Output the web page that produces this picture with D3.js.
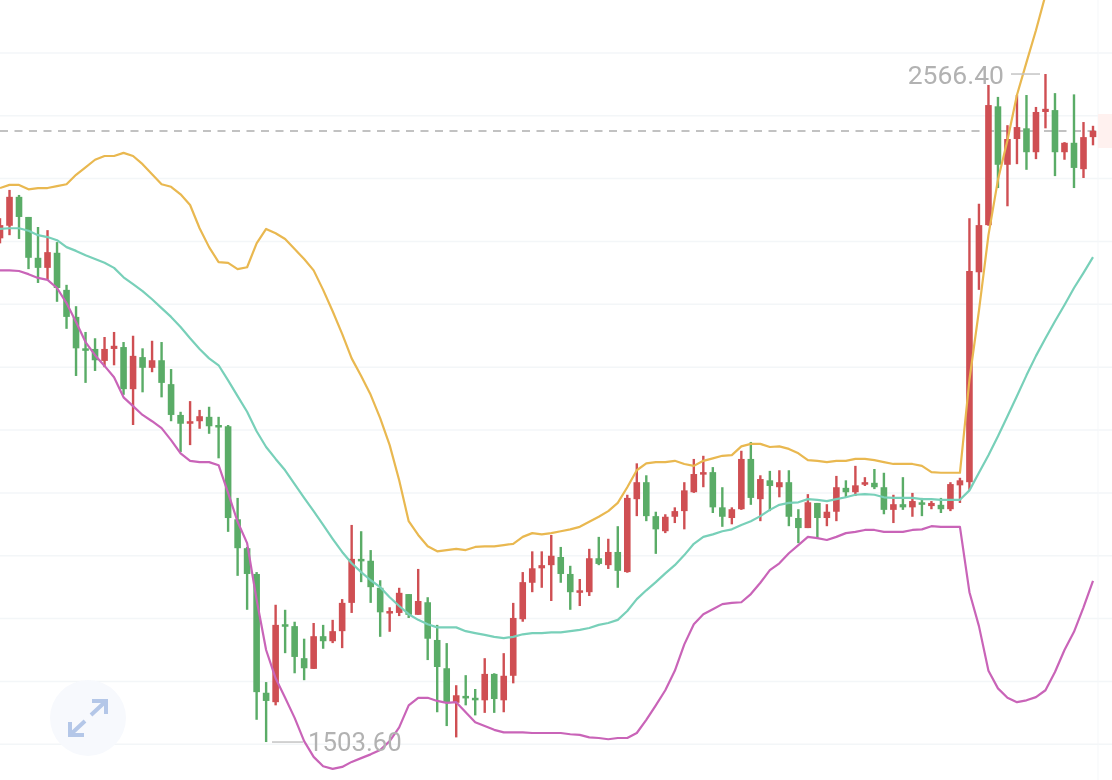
<!DOCTYPE html>
<html><head><meta charset="utf-8">
<style>html,body{margin:0;padding:0;background:#fff;overflow:hidden}svg{display:block;filter:blur(0.4px)}</style>
<script src="https://cdn.jsdelivr.net/npm/d3@7/dist/d3.min.js"></script>
</head><body><svg id="c" width="1112" height="780"></svg>
<script>
const gridPrices=[1500,1600,1700,1800,1900,2000,2100,2200,2300,2400,2500,2600];
const lastPrice=2475.7;
const maxLabel="2566.40", minLabel="1503.60";
const opens=[2305,2325,2371,2339,2274,2258,2282,2223,2180,2130,
2129,2110,2129,2132,2065,2116,2099,2111,2073,2024,
2010,2014,2021,2008,2006,1858,1812,1771,1582,1567,
1691,1688,1637,1620,1672,1664,1680,1725,1795,1792,
1749,1710,1709,1739,1706,1726,1666,1621,1566,1577,
1574,1570,1612,1570,1609,1699,1757,1780,1785,1798,
1771,1742,1742,1796,1785,1806,1774,1890,1917,1863,
1839,1862,1871,1901,1930,1933,1877,1860,1874,1954,
1890,1920,1909,1917,1860,1844,1884,1860,1870,1908,
1901,1916,1916,1909,1873,1882,1877,1885,1879,1881,
1874,1912,1917,2251,2326,2515,2422,2463,2480,2442,
2506,2509,2442,2457,2415,2466];
const closes=[2326,2371,2339,2274,2258,2283,2226,2180,2130,2129,
2111,2129,2134,2065,2118,2099,2111,2075,2024,2010,
2014,2022,2006,2005,1860,1812,1771,1583,1569,1690,
1688,1639,1621,1672,1664,1680,1725,1795,1793,1750,
1710,1712,1741,1706,1728,1668,1623,1567,1578,1574,
1572,1612,1572,1609,1701,1758,1780,1785,1800,1771,
1742,1745,1796,1787,1806,1776,1892,1917,1863,1842,
1862,1871,1904,1930,1933,1877,1862,1874,1954,1892,
1922,1911,1917,1862,1844,1885,1860,1870,1909,1901,
1912,1917,1909,1873,1882,1877,1887,1884,1884,1874,
1914,1920,2253,2326,2517,2422,2463,2482,2442,2506,
2511,2442,2457,2417,2466,2476];
const highs=[2337,2382,2374,2339,2323,2318,2299,2231,2197,2156,
2146,2148,2156,2140,2150,2130,2142,2140,2097,2029,
2046,2032,2037,2021,2008,1892,1814,1774,1599,1722,
1714,1695,1668,1693,1690,1698,1731,1849,1839,1809,
1761,1718,1749,1739,1779,1734,1690,1661,1594,1610,
1588,1637,1613,1645,1725,1774,1807,1807,1833,1814,
1784,1763,1811,1830,1827,1847,1897,1947,1928,1870,
1866,1877,1917,1954,1959,1941,1909,1877,1967,1981,
1928,1935,1936,1936,1874,1898,1884,1882,1927,1920,
1943,1925,1938,1932,1897,1925,1900,1892,1887,1892,
1917,1924,2337,2360,2549,2530,2485,2533,2533,2514,
2566.4,2536,2458,2534,2490,2484];
const lows=[2297,2310,2304,2256,2234,2239,2204,2161,2086,2075,
2094,2100,2103,2056,2008,2060,2092,2052,2014,1965,
1976,2002,1994,1955,1838,1768,1714,1539,1503.6,1562,
1645,1613,1602,1620,1652,1661,1653,1709,1758,1725,
1671,1679,1704,1701,1706,1634,1551,1529,1511,1562,
1546,1550,1550,1551,1597,1695,1742,1749,1728,1757,
1714,1720,1736,1785,1779,1749,1773,1863,1855,1803,
1836,1852,1842,1900,1909,1868,1846,1850,1873,1881,
1855,1871,1893,1847,1820,1844,1828,1847,1855,1893,
1895,1911,1906,1866,1852,1873,1862,1863,1874,1868,
1871,1884,1905,2223,2325,2385,2356,2423,2414,2431,
2480,2404,2430,2385,2401,2453];
const upper=[2385,2390,2390,2383,2385,2385,2388,2391,2406,2418,2430,2436,2436,2441,2436,2423,2407,2391,2387,2375,2358,2321,2291,2267,2266,2256,2259,2297,2320,2313,2304,2288,2272,2254,2223,2189,2153,2114,2086,2056,2019,1976,1920,1855,1833,1815,1807,1809,1811,1809,1814,1815,1815,1817,1819,1830,1836,1834,1836,1839,1842,1846,1854,1862,1871,1884,1909,1936,1947,1949,1949,1951,1946,1943,1951,1955,1959,1960,1974,1978,1978,1973,1974,1970,1963,1952,1951,1949,1951,1951,1954,1954,1952,1949,1946,1946,1946,1943,1933,1932,1932,1932,2080,2190,2310,2398,2461,2533,2585,2636,2692];
const middle=[2320,2321,2321,2317,2310,2307,2302,2291,2285,2278,2272,2266,2258,2243,2232,2221,2208,2194,2180,2164,2146,2129,2114,2103,2079,2054,2029,1998,1973,1954,1936,1914,1892,1871,1849,1827,1806,1788,1774,1761,1750,1734,1720,1707,1698,1691,1686,1686,1686,1680,1677,1674,1671,1669,1671,1675,1677,1677,1678,1678,1680,1682,1685,1690,1693,1698,1712,1731,1745,1758,1772,1785,1801,1819,1830,1834,1839,1842,1849,1855,1863,1873,1881,1884,1885,1890,1889,1887,1890,1893,1897,1898,1897,1893,1892,1892,1892,1890,1890,1889,1889,1889,1904,1932,1960,1990,2022,2054,2087,2118,2146,2173,2199,2226,2250,2275];
const lower=[2254,2254,2253,2248,2242,2239,2226,2202,2172,2140,2119,2102,2084,2052,2038,2024,2014,2003,1984,1963,1951,1949,1949,1944,1900,1854,1820,1730,1650,1605,1574,1542,1505,1480,1465,1461,1464,1472,1478,1484,1491,1505,1527,1562,1574,1574,1569,1566,1567,1551,1535,1529,1523,1519,1519,1519,1518,1518,1518,1518,1516,1515,1511,1510,1508,1510,1510,1518,1539,1562,1586,1617,1659,1691,1707,1715,1723,1725,1726,1739,1757,1777,1788,1804,1817,1830,1828,1825,1830,1836,1838,1841,1841,1838,1838,1838,1841,1842,1847,1846,1846,1846,1742,1688,1617,1589,1574,1567,1570,1575,1586,1615,1650,1679,1718,1760];

const UP="#cf4f53",DOWN="#5aac67";
const svg=d3.select("#c");
const x=d3.scaleLinear().domain([0,115]).range([0,1093]);
const y=d3.scaleLinear().domain([1500,2600]).range([744.3,52.9]);
const plotRight=1098;

svg.append("g").selectAll("line").data(gridPrices).join("line")
 .attr("x1",0).attr("x2",1112).attr("y1",d=>y(d)).attr("y2",d=>y(d))
 .attr("stroke","#f3f6f8").attr("stroke-width",1.5);
svg.append("line").attr("x1",plotRight).attr("x2",plotRight).attr("y1",0).attr("y2",780)
 .attr("stroke","#f5f7f9").attr("stroke-width",1);
svg.append("rect").attr("x",plotRight).attr("width",1112-plotRight)
 .attr("y",y(lastPrice)-17).attr("height",34).attr("fill","#fff1ef");
svg.append("line").attr("x1",0).attr("x2",plotRight).attr("y1",y(lastPrice)).attr("y2",y(lastPrice))
 .attr("stroke","#c2c2c2").attr("stroke-width",2).attr("stroke-dasharray","8,6.5");

const idx=d3.range(opens.length);
const g=svg.append("g").selectAll("g").data(idx).join("g")
 .attr("fill",i=>closes[i]>=opens[i]?UP:DOWN);
g.append("rect").attr("x",i=>x(i)-1.2).attr("width",2.4)
 .attr("y",i=>y(highs[i])).attr("height",i=>y(lows[i])-y(highs[i]));
g.append("rect").attr("x",i=>x(i)-3.3).attr("width",6.6)
 .attr("y",i=>y(Math.max(opens[i],closes[i])))
 .attr("height",i=>Math.max(2.5,Math.abs(y(opens[i])-y(closes[i]))));

const line=d3.line().x((d,i)=>x(i)).y(d=>y(d)).curve(d3.curveLinear);
[[upper,"#e9b850"],[middle,"#78d0b9"],[lower,"#c964b8"]].forEach(([s,c])=>{
 svg.append("path").attr("d",line(s)).attr("fill","none").attr("stroke",c).attr("stroke-width",2.2).attr("stroke-linejoin","round");
});

const labelFont="Roboto, sans-serif";
const hiY=y(d3.max(highs)), loY=y(d3.min(lows));
svg.append("line").attr("x1",1011).attr("x2",1040).attr("y1",hiY).attr("y2",hiY).attr("stroke","#c4c4c4").attr("stroke-width",1.5);
svg.append("text").attr("x",1004).attr("y",hiY).attr("dy","0.36em").attr("text-anchor","end")
 .attr("font-family",labelFont).attr("font-size",26.5).attr("fill","#b2b2b2").text(maxLabel);
svg.append("line").attr("x1",272).attr("x2",303).attr("y1",loY).attr("y2",loY).attr("stroke","#c4c4c4").attr("stroke-width",1.5);
svg.append("text").attr("x",308).attr("y",loY).attr("dy","0.36em")
 .attr("font-family",labelFont).attr("font-size",25.8).attr("fill","#b2b2b2").text(minLabel);

const btn=svg.append("g");
btn.append("circle").attr("cx",88).attr("cy",718).attr("r",38).attr("fill","#f7f9fd");
btn.append("path").attr("d","M91 715L105 702M92 701H106V714M85 721L71 734M70 722V735H84")
 .attr("fill","none").attr("stroke","#b4c7e8").attr("stroke-width",4);
</script></body></html>
